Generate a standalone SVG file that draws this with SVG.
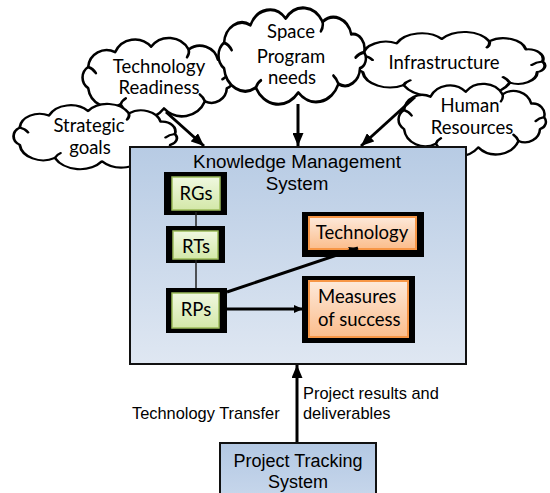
<svg xmlns="http://www.w3.org/2000/svg" width="550" height="493" viewBox="0 0 550 493">
<style>
.cl{fill:#fff;stroke:#000;stroke-width:3;vector-effect:non-scaling-stroke;stroke-linejoin:round}
.tk{fill:none;stroke:#000;stroke-width:3;vector-effect:non-scaling-stroke;stroke-linecap:round}
.ct{font-family:Lato,"Liberation Sans",sans-serif;font-size:18.5px;fill:#000;text-anchor:middle}
.bt{font-family:Lato,"Liberation Sans",sans-serif;font-size:18.5px;fill:#000}
.at{font-family:"Liberation Sans",Arial,sans-serif;fill:#000}
.frame{fill:#000}
.gb{fill:url(#gG);stroke:#9bbb59;stroke-width:1.5}
.ob{fill:url(#gO);stroke:#f79646;stroke-width:2}
.ar{fill:none;stroke:#000;stroke-width:3}
.thin{fill:none;stroke:#222;stroke-width:1.5}
</style>
<defs>
<linearGradient id="gB" x1="0" y1="0" x2="0" y2="1"><stop offset="0" stop-color="#b7cbe4"/><stop offset="1" stop-color="#dfe7f2"/></linearGradient>
<linearGradient id="gB2" x1="0" y1="0" x2="0" y2="1"><stop offset="0" stop-color="#b3c8e3"/><stop offset="1" stop-color="#c9d8ec"/></linearGradient>
<linearGradient id="gG" x1="0" y1="0" x2="0" y2="1"><stop offset="0" stop-color="#f0f8e0"/><stop offset="1" stop-color="#d3e8a8"/></linearGradient>
<linearGradient id="gO" x1="0" y1="0" x2="0" y2="1"><stop offset="0" stop-color="#fde9da"/><stop offset="1" stop-color="#fbbd8c"/></linearGradient>
<path id="cloud" d="M19.2,37.7 A21.5,21.5 0 0 1 50.6,20.5 A25.4,25.4 0 0 1 92.5,14.1 A26.4,26.4 0 0 1 136.4,17.4 A21.6,21.6 0 0 1 170.4,29.3 A14,14 0 0 1 185.7,46.9 A9.7,9.7 0 0 1 180.8,62.3 A17.8,17.8 0 0 1 155.3,77.6 A29.1,29.1 0 0 1 107.5,85.9 A30.4,30.4 0 0 1 57,81.2 A25.4,25.4 0 0 1 19.2,62.3 A14.8,14.8 0 0 1 19.2,37.7 Z"/>
<path id="ticks" d="M19.2,37.7 q6,2 9,7 M136.4,17.4 q1,5 -2,9 M185.7,46.9 q-6,1 -10,5 M155.3,77.6 q-2,-5 -6,-8 M57,81.2 q2,-5 6,-7"/>
<marker id="ah" markerUnits="userSpaceOnUse" markerWidth="13" markerHeight="11" refX="13" refY="5.5" orient="auto"><path d="M0,0 L13,5.5 L0,11 Z" fill="#000"/></marker>
<marker id="as" markerUnits="userSpaceOnUse" markerWidth="9" markerHeight="8" refX="9" refY="4" orient="auto"><path d="M0,0 L9,4 L0,8 Z" fill="#000"/></marker>
</defs>

<g id="infrastructure">
<g transform="translate(342,29.25) scale(1.08,0.688)"><use href="#cloud" class="cl"/><use href="#ticks" class="tk"/></g>
<text class="ct" x="444" y="69">Infrastructure</text>
</g>
<g id="human-resources">
<g transform="translate(387.9,80.9) scale(0.841,0.774)"><use href="#cloud" class="cl"/><use href="#ticks" class="tk"/></g>
<text class="ct" x="470" y="112">Human</text>
<text class="ct" x="472" y="134">Resources</text>
</g>
<g id="technology-readiness">
<g transform="translate(71.7,34.6) scale(0.858,0.86)"><use href="#cloud" class="cl"/><use href="#ticks" class="tk"/></g>
<text class="ct" x="159" y="73">Technology</text>
<text class="ct" x="159" y="94">Readiness</text>
</g>
<g id="strategic-goals">
<g transform="translate(1.8,101.2) scale(0.932,0.699)"><use href="#cloud" class="cl"/><use href="#ticks" class="tk"/></g>
<text class="ct" x="89" y="132">Strategic</text>
<text class="ct" x="90" y="154">goals</text>
</g>
<g id="space-program-needs">
<g transform="translate(207.9,3.9) scale(0.841,1.032)"><use href="#cloud" class="cl"/><use href="#ticks" class="tk"/></g>
<text class="ct" x="291" y="38">Space</text>
<text class="ct" x="291" y="63">Program</text>
<text class="ct" x="292" y="84">needs</text>
</g>

<g id="kms">
<rect x="130" y="147" width="336" height="217" fill="url(#gB)" stroke="#111" stroke-width="2"/>
<text class="at" x="297" y="168" font-size="18.8" text-anchor="middle">Knowledge Management</text>
<text class="at" x="297" y="190" font-size="18.8" text-anchor="middle">System</text>
</g>
<g id="rgs">
<rect class="frame" x="164" y="172" width="63" height="43"/>
<rect class="gb" x="172" y="177" width="48" height="33"/>
<text class="bt" x="196" y="200" text-anchor="middle">RGs</text>
</g>
<g id="rts">
<rect class="frame" x="166" y="226" width="59" height="37"/>
<rect class="gb" x="173" y="231" width="45" height="28"/>
<text class="bt" x="196" y="253" text-anchor="middle">RTs</text>
</g>
<g id="rps">
<rect class="frame" x="166" y="288" width="61" height="45"/>
<rect class="gb" x="172" y="293" width="47" height="35"/>
<text class="bt" x="196" y="316" text-anchor="middle">RPs</text>
</g>
<g id="technology">
<rect class="frame" x="302" y="212" width="122" height="45"/>
<rect class="ob" x="309" y="217" width="107" height="32"/>
<text class="bt" x="362" y="239" text-anchor="middle">Technology</text>
</g>
<g id="measures">
<rect class="frame" x="302" y="276" width="113" height="67"/>
<rect class="ob" x="309" y="281" width="99" height="56"/>
<text class="bt" x="318" y="303">Measures</text>
<text class="bt" x="318" y="326">of success</text>
</g>
<g id="project-tracking">
<rect x="220" y="443" width="156" height="60" fill="url(#gB2)" stroke="#111" stroke-width="2"/>
<text class="at" x="298" y="467" font-size="18" text-anchor="middle">Project Tracking</text>
<text class="at" x="298" y="488" font-size="18" text-anchor="middle">System</text>
</g>

<g id="connectors">
<line class="ar" x1="166" y1="112" x2="204" y2="146" marker-end="url(#ah)"/>
<line class="ar" x1="298" y1="104" x2="298" y2="146" marker-end="url(#ah)"/>
<line class="ar" x1="415" y1="97" x2="361" y2="146" marker-end="url(#ah)"/>
<line class="ar" x1="297" y1="442" x2="297" y2="365" stroke-width="3.5" marker-end="url(#ah)"/>
<line class="thin" x1="196" y1="212" x2="196" y2="226"/>
<line class="thin" x1="196" y1="260" x2="196" y2="288"/>
<line class="ar" x1="227" y1="292" x2="358" y2="248" stroke-width="2.5" marker-end="url(#as)"/>
<line class="ar" x1="227" y1="309" x2="303" y2="309" stroke-width="2.5" marker-end="url(#as)"/>
<text class="at" x="132" y="419" font-size="16.4">Technology Transfer</text>
<text class="at" x="303" y="399" font-size="16.4">Project results and</text>
<text class="at" x="303" y="419" font-size="16.4">deliverables</text>
</g>
</svg>
